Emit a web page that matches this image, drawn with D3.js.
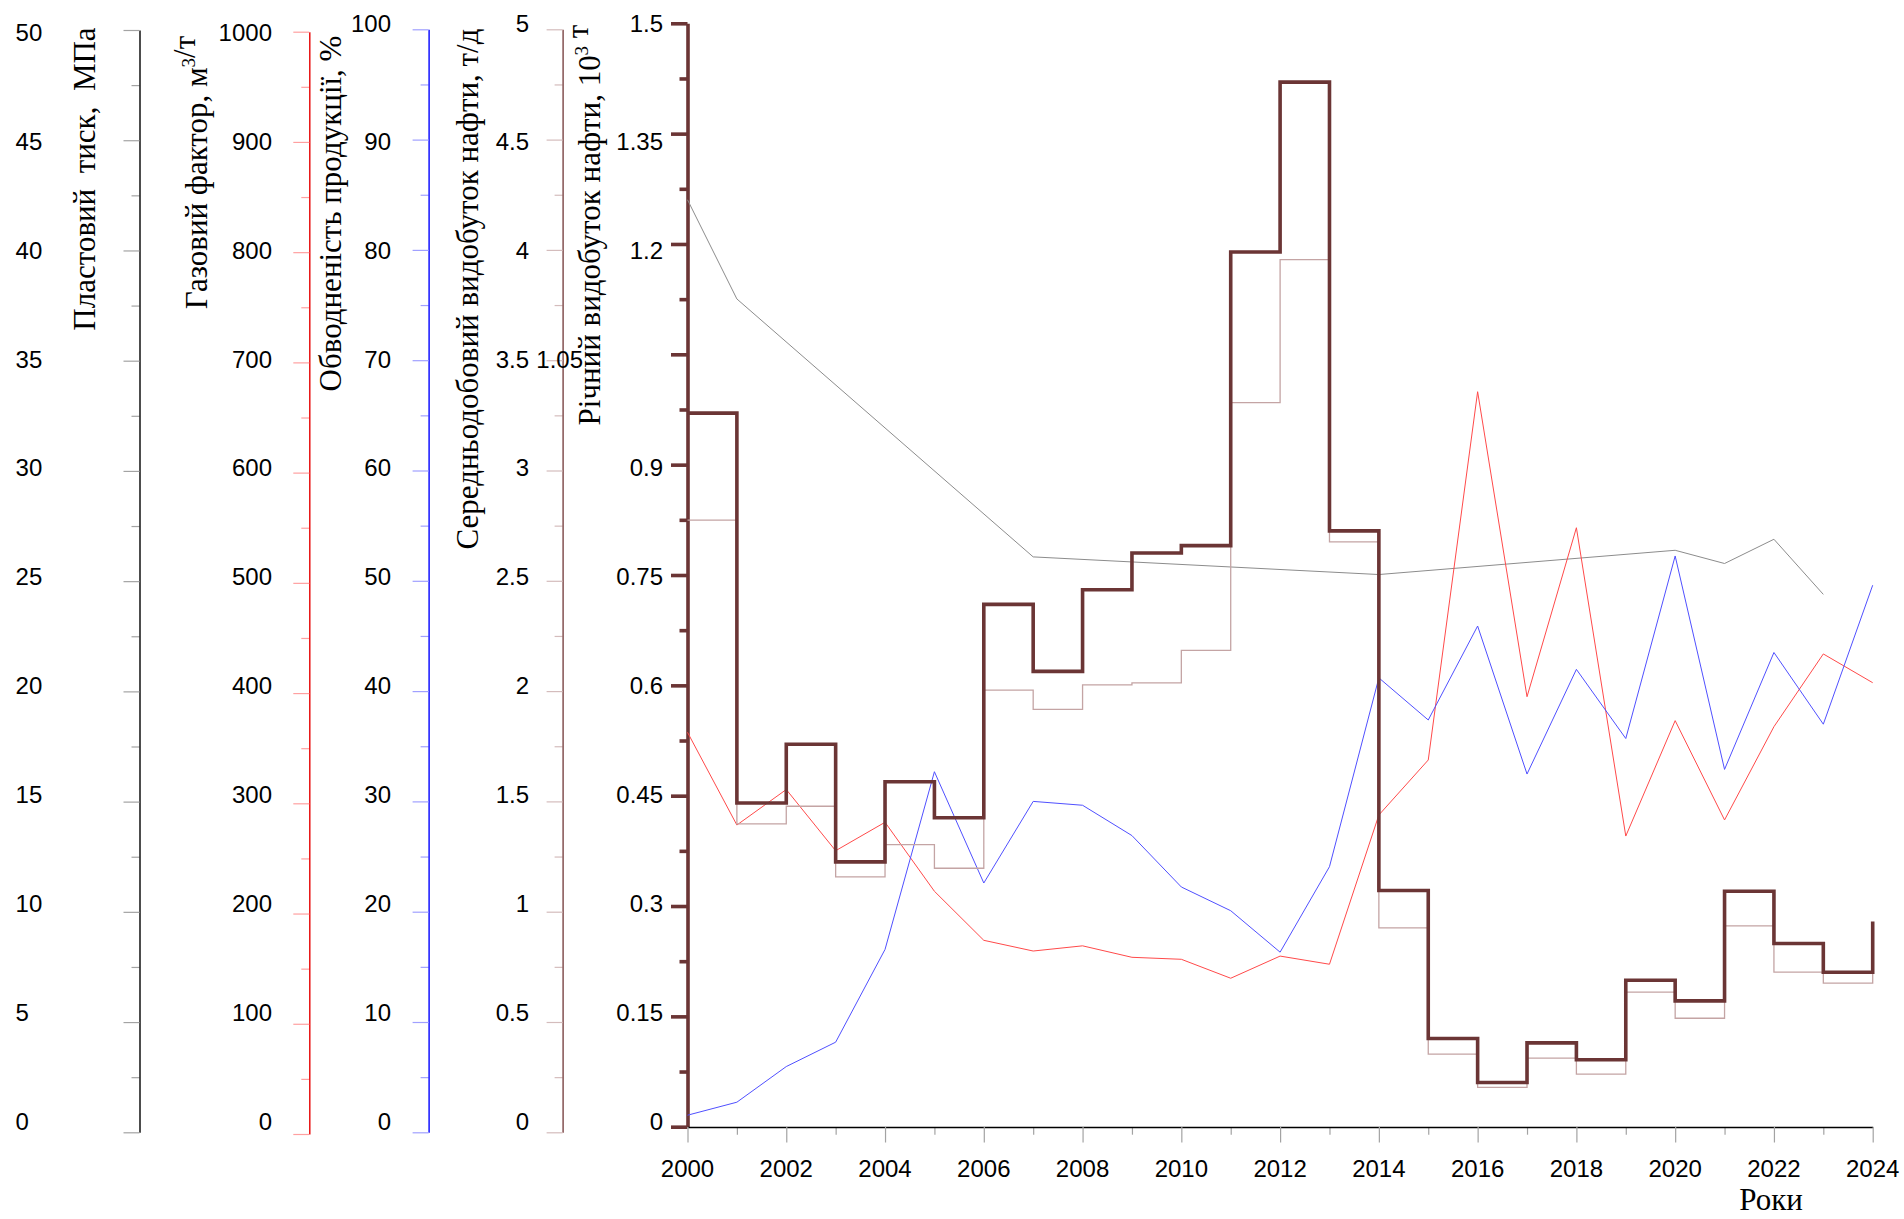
<!DOCTYPE html>
<html>
<head>
<meta charset="utf-8">
<script src="https://cdn.jsdelivr.net/npm/d3@7"></script>
<style>
  html, body { margin: 0; padding: 0; background: #fff; }
  svg { display: block; }
  .tick-label { font-family: "Liberation Sans", Arial, sans-serif; font-size: 24px; fill: #000; }
  .title { font-family: "Liberation Serif", "Times New Roman", serif; font-size: 31px; fill: #000; }
</style>
</head>
<body>
<svg id="chart" width="1904" height="1219"></svg>
<script>
// ---- Data: field development indicators, 2000–2024 ----
const years = [2000, 2001, 2002, 2003, 2004, 2005, 2006, 2007, 2008, 2009, 2010, 2011, 2012,
               2013, 2014, 2015, 2016, 2017, 2018, 2019, 2020, 2021, 2022, 2023, 2024];

// Річний видобуток нафти, 10³ т
const annualOil = [0.970, 0.440, 0.520, 0.360, 0.469, 0.420, 0.710, 0.619, 0.730, 0.780, 0.790, 1.189, 1.420,
                   0.810, 0.321, 0.120, 0.060, 0.114, 0.091, 0.199, 0.171, 0.320, 0.249, 0.210, 0.279];

// Середньодобовий видобуток нафти, т/д
const dailyOil = [2.775, 1.398, 1.478, 1.158, 1.304, 1.197, 2.004, 1.917, 2.028, 2.037, 2.185, 3.308, 3.956,
                  2.676, 0.927, 0.354, 0.204, 0.336, 0.264, 0.635, 0.517, 0.936, 0.726, 0.676, 0.727];

// Газовий фактор, м³/т
const gasFactor = [364.4, 280.3, 312.5, 257.0, 282.8, 220.2, 175.7, 166.0, 170.7, 160.3, 158.5, 141.3, 161.4,
                   154.0, 289.4, 339.3, 673.4, 396.7, 550.0, 270.3, 375.0, 284.9, 369.5, 435.5, 409.4];

// Обводненість продукції, %
const waterCut = [1.55, 2.73, 5.96, 8.17, 16.58, 32.69, 22.6, 30.0, 29.65, 26.9, 22.24, 20.09, 16.33,
                  24.08, 41.2, 37.38, 45.9, 32.48, 41.97, 35.7, 52.25, 32.9, 43.5, 37.0, 49.6];

// Пластовий тиск, МПа (measurement years only)
const pressureYears = [2000, 2001, 2007, 2014, 2020, 2021, 2022, 2023];
const pressure = [42.3, 37.8, 26.1, 25.3, 26.4, 25.8, 26.9, 24.4];

// Tick values and labels for the five value axes and the year axis
const pressureTicks = [0, 5, 10, 15, 20, 25, 30, 35, 40, 45, 50];
const pressureLabels = ["0", "5", "10", "15", "20", "25", "30", "35", "40", "45", "50"];
const gasTicks = [0, 100, 200, 300, 400, 500, 600, 700, 800, 900, 1000];
const gasLabels = ["0", "100", "200", "300", "400", "500", "600", "700", "800", "900", "1000"];
const waterTicks = [0, 10, 20, 30, 40, 50, 60, 70, 80, 90, 100];
const waterLabels = ["0", "10", "20", "30", "40", "50", "60", "70", "80", "90", "100"];
const dailyTicks = [0, 0.5, 1, 1.5, 2, 2.5, 3, 3.5, 4, 4.5, 5];
const dailyLabels = ["0", "0.5", "1", "1.5", "2", "2.5", "3", "3.5", "4", "4.5", "5"];
const annualTicks = [0, 0.15, 0.3, 0.45, 0.6, 0.75, 0.9, 1.05, 1.2, 1.35, 1.5];
const annualLabels = ["0", "0.15", "0.3", "0.45", "0.6", "0.75", "0.9", "1.05", "1.2", "1.35", "1.5"];
const yearTicks = [2000, 2002, 2004, 2006, 2008, 2010, 2012, 2014, 2016, 2018, 2020, 2022, 2024];

// ---- Layout ----
const svg = d3.select("#chart");
svg.append("rect").attr("width", 1904).attr("height", 1219).attr("fill", "#fff");

const xLeft = 687.5, xRight = 1872.7, baseY = 1127;
const labelBottom = 1121.7, labelTop = 32;

const x = d3.scaleLinear().domain([2000, 2024]).range([xLeft, xRight]);

const axes = [
  { key: "pressure", ticks: pressureTicks, labels: pressureLabels, max: 50, pos: 139.5,
    y0: 1132.3, y1: 30, line: "#000", tick: "#a3a3a3", lineW: 1.4, tickW: 1.2,
    major: 16, minor: 8, labelX: 15.6, anchor: "start", topLabel: 32 },
  { key: "gas", ticks: gasTicks, labels: gasLabels, max: 1000, pos: 309.3,
    y0: 1134, y1: 31.7, line: "#e60000", tick: "#ffa0a0", lineW: 1.4, tickW: 1.2,
    major: 16, minor: 8, labelX: 272, anchor: "end", topLabel: 32 },
  { key: "water", ticks: waterTicks, labels: waterLabels, max: 100, pos: 428.6,
    y0: 1132.3, y1: 29.3, line: "#0000ff", tick: "#a0a0ff", lineW: 1.4, tickW: 1.2,
    major: 16, minor: 8, labelX: 391, anchor: "end", topLabel: 23 },
  { key: "daily", ticks: dailyTicks, labels: dailyLabels, max: 5, pos: 562.6,
    y0: 1132.3, y1: 29.3, line: "#7a4444", tick: "#d4bcbc", lineW: 1.4, tickW: 1.2,
    major: 16, minor: 8, labelX: 529, anchor: "end", topLabel: 23 },
  { key: "annual", ticks: annualTicks, labels: annualLabels, max: 1.5, pos: 687.5,
    y0: 1126.7, y1: 23.3, line: "#6b3535", tick: "#6b3535", lineW: 3.6, tickW: 3.6,
    major: 16.5, minor: 8, labelX: 663, anchor: "end", topLabel: 23 }
];

const scales = {};
axes.forEach(a => {
  const s = d3.scaleLinear().domain([0, a.max]).range([a.y0, a.y1]);
  scales[a.key] = s;
  const labelScale = d3.scaleLinear().domain([0, a.max]).range([labelBottom, labelTop]);

  // minor ticks halfway between the labelled ones
  const minors = a.ticks.slice(1).map((t, i) => (t + a.ticks[i]) / 2);

  const gMinor = svg.append("g").attr("transform", `translate(${a.pos},0)`)
    .call(d3.axisLeft(s).tickValues(minors).tickSize(a.minor).tickSizeOuter(0).tickFormat(""));
  gMinor.select(".domain").remove();
  gMinor.selectAll(".tick line").attr("stroke", a.tick).attr("stroke-width", a.tickW);

  const gMajor = svg.append("g").attr("transform", `translate(${a.pos},0)`)
    .call(d3.axisLeft(s).tickValues(a.ticks).tickSize(a.major).tickSizeOuter(0).tickFormat(""));
  gMajor.selectAll(".tick line").attr("stroke", a.tick).attr("stroke-width", a.tickW);
  gMajor.select(".domain").attr("stroke", a.line).attr("stroke-width", a.lineW);

  a.ticks.forEach((t, i) => {
    let ly = (i === a.ticks.length - 1) ? a.topLabel : labelScale(t);
    let lx = a.labelX;
    // the 1.05 label sits left of the axis title
    if (a.key === "annual" && a.labels[i] === "1.05") lx = 583;
    svg.append("text").attr("class", "tick-label")
      .attr("x", lx).attr("y", ly + 8.6)
      .attr("text-anchor", a.anchor)
      .text(a.labels[i]);
  });
});

// ---- Year axis ----
const oddYears = years.filter(y => y % 2 === 1);
const gxMinor = svg.append("g").attr("transform", `translate(0,${baseY})`)
  .call(d3.axisBottom(x).tickValues(oddYears).tickSize(7.7).tickSizeOuter(0).tickFormat(""));
gxMinor.select(".domain").remove();
gxMinor.selectAll(".tick line").attr("stroke", "#a3a3a3").attr("stroke-width", 1.2);

const gx = svg.append("g").attr("transform", `translate(0,${baseY})`)
  .call(d3.axisBottom(x).tickValues(yearTicks).tickSize(15.5).tickSizeOuter(0).tickFormat(""));
gx.select(".domain").attr("stroke", "#000").attr("stroke-width", 1.4);
gx.selectAll(".tick line").attr("stroke", "#a3a3a3").attr("stroke-width", 1.2);

yearTicks.forEach(yr => {
  svg.append("text").attr("class", "tick-label")
    .attr("x", x(yr)).attr("y", 1177.3).attr("text-anchor", "middle").text(yr);
});

svg.append("text").attr("class", "title").attr("font-size", 30)
  .attr("x", 1771).attr("y", 1210).attr("text-anchor", "middle").text("Роки");

// ---- Axis titles (rotated) ----
function vTitle(cx, cy, parts, size) {
  const t = svg.append("text").attr("class", "title")
    .attr("transform", `translate(${cx},${cy}) rotate(-90)`)
    .attr("text-anchor", "middle");
  if (size) t.attr("font-size", size);
  parts.forEach(p => {
    if (p.sup) {
      t.append("tspan").attr("dy", -12).attr("font-size", 19).text(p.sup);
      t.append("tspan").attr("dy", 12).text("");
    } else {
      t.append("tspan").text(p.t);
    }
  });
}
vTitle(95, 179, [{ t: "Пластовий\u00a0\u00a0тиск,\u00a0\u00a0МПа" }], 28);
vTitle(207, 172.5, [{ t: "Газовий фактор, м" }, { sup: "3" }, { t: "/т" }]);
vTitle(341, 213.5, [{ t: "Обводненість продукції, %" }]);
vTitle(478, 289, [{ t: "Середньодобовий видобуток нафти, т/д" }]);
vTitle(600, 225, [{ t: "Річний видобуток нафти, 10" }, { sup: "3" }, { t: " т" }]);

// ---- Series ----
const byYear = vals => years.map((yr, i) => ({ year: yr, v: vals[i] }));

function drawLine(data, scale, color, width, curve) {
  const gen = d3.line().x(d => x(d.year)).y(d => scale(d.v));
  if (curve) gen.curve(curve);
  svg.append("path").datum(data)
    .attr("fill", "none").attr("stroke", color).attr("stroke-width", width)
    .attr("stroke-linejoin", "miter").attr("d", gen);
}

drawLine(pressureYears.map((yr, i) => ({ year: yr, v: pressure[i] })), scales.pressure, "#8c8c8c", 1);
drawLine(byYear(gasFactor), scales.gas, "#ff4a4a", 1);
drawLine(byYear(waterCut), scales.water, "#5050ff", 1);
drawLine(byYear(dailyOil), scales.daily, "#c4a4a4", 1.3, d3.curveStepAfter);
drawLine(byYear(annualOil), scales.annual, "#6b3535", 3.6, d3.curveStepAfter);
</script>
</body>
</html>
